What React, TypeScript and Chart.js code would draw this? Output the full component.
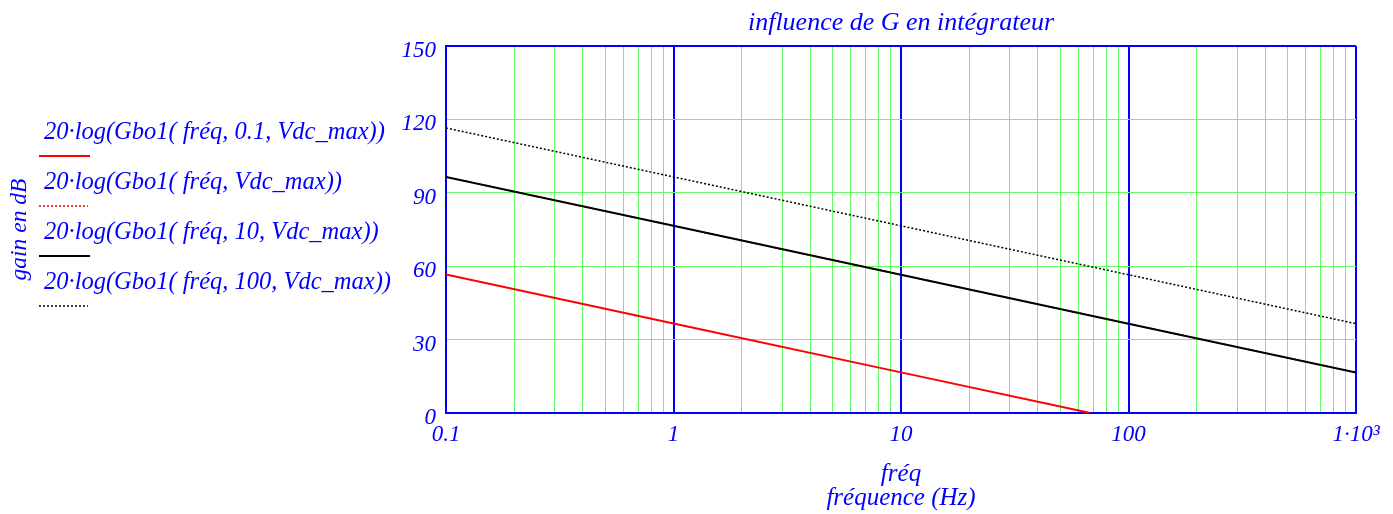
import { useEffect, useRef } from 'react';
import { Chart, registerables } from 'chart.js';

Chart.register(...registerables);

const FONT = '"Liberation Serif", "Times New Roman", serif';
const BLUE = '#0000ff';
const GREEN = 'rgb(100,250,100)';

// Frequencies (Hz) and gains (dB)
const freqs = [0.1, 1, 10, 100, 1000];
const gainG10 = [96.5, 76.5, 56.5, 36.5, 16.5];
const gainG100 = [116.5, 96.5, 76.5, 56.5, 36.5];
const gainDefault = [96.5, 76.5, 56.5, 36.5, 16.5];
const redFreqs = [0.1, 1, 10, 68];
const gainG01 = [56.6, 36.6, 16.6, 0];

const xTickValues = [
  0.1, 0.2, 0.3, 0.4, 0.5, 0.6, 0.7, 0.8, 0.9,
  1, 2, 3, 4, 5, 6, 7, 8, 9,
  10, 20, 30, 40, 50, 60, 70, 80, 90,
  100, 200, 300, 400, 500, 600, 700, 800, 900,
  1000,
];
const xMajorValues = [0.1, 1, 10, 100, 1000];
const xMajorLabels = ['0.1', '1', '10', '100', '1·10³'];
const yTickValues = [0, 30, 60, 90, 120, 150];

const legendLabels = [
  '20·log(Gbo1( fréq, 0.1, Vdc_max))',
  '20·log(Gbo1( fréq, Vdc_max))',
  '20·log(Gbo1( fréq, 10, Vdc_max))',
  '20·log(Gbo1( fréq, 100, Vdc_max))',
];
const legendColors = ['#ff0000', '#ff0000', '#000000', '#000000'];
const legendDashed = [false, true, false, true];

const isMajor = (v: number) => xMajorValues.some((m) => Math.abs(m - v) < 1e-9);

const legendPlugin = {
  id: 'mcadLegend',
  afterDraw(chart: any) {
    const ctx = chart.ctx as CanvasRenderingContext2D;
    ctx.save();
    ctx.font = `italic 24.5px ${FONT}`;
    ctx.textBaseline = 'alphabetic';
    ctx.textAlign = 'left';
    legendLabels.forEach((label, i) => {
      const base = 139 + i * 50;
      ctx.fillStyle = BLUE;
      ctx.fillText(label, 44, base);
      const ly = 156 + i * 50;
      ctx.beginPath();
      ctx.strokeStyle = legendColors[i];
      if (legendDashed[i]) {
        ctx.lineWidth = 1.5;
        ctx.setLineDash([2, 2]);
      } else {
        ctx.lineWidth = 2;
        ctx.setLineDash([]);
      }
      ctx.moveTo(39, ly);
      ctx.lineTo(legendDashed[i] ? 88 : 90, ly);
      ctx.stroke();
    });
    ctx.restore();
  },
};

export default function App() {
  const ref = useRef<HTMLCanvasElement>(null);
  useEffect(() => {
    if (!ref.current) return;
    const chart = new Chart(ref.current, {
      type: 'line',
      data: {
        datasets: [
          {
            label: legendLabels[0],
            data: redFreqs.map((f, i) => ({ x: f, y: gainG01[i] })),
            borderColor: '#ff0000',
            borderWidth: 2,
            pointRadius: 0,
            order: 0,
          },
          {
            label: legendLabels[1],
            data: freqs.map((f, i) => ({ x: f, y: gainDefault[i] })),
            borderColor: '#ff0000',
            borderWidth: 1.5,
            borderDash: [2, 2],
            pointRadius: 0,
            order: 2,
          },
          {
            label: legendLabels[2],
            data: freqs.map((f, i) => ({ x: f, y: gainG10[i] })),
            borderColor: '#000000',
            borderWidth: 2,
            pointRadius: 0,
            order: 0,
          },
          {
            label: legendLabels[3],
            data: freqs.map((f, i) => ({ x: f, y: gainG100[i] })),
            borderColor: '#000000',
            borderWidth: 1.5,
            borderDash: [2, 2],
            pointRadius: 0,
            order: 0,
          },
        ],
      },
      options: {
        animation: false,
        responsive: false,
        devicePixelRatio: 1,
        layout: { padding: { left: 0, right: 37, top: 0, bottom: 0 } },
        plugins: {
          legend: { display: false },
          tooltip: { enabled: false },
          title: {
            display: true,
            text: 'influence de G en intégrateur',
            fullSize: false,
            color: BLUE,
            font: { family: FONT, size: 26, style: 'italic', weight: 'normal', lineHeight: 1.2 },
            padding: { top: 7.6, bottom: 7.2 },
          },
        },
        scales: {
          x: {
            type: 'logarithmic',
            min: 0.1,
            max: 1000,
            afterBuildTicks: (scale: any) => {
              scale.ticks = xTickValues.map((v) => ({ value: v }));
            },
            afterFit: (scale: any) => {
              scale.height = 101;
            },
            ticks: {
              autoSkip: false,
              maxRotation: 0,
              minRotation: 0,
              padding: 8.4,
              color: BLUE,
              font: { family: FONT, size: 23, style: 'italic', lineHeight: 1.2 },
              callback: (value: any) => {
                const idx = xMajorValues.findIndex((m) => Math.abs(m - Number(value)) < 1e-9);
                return idx >= 0 ? xMajorLabels[idx] : '';
              },
            },
            grid: {
              drawTicks: false,
              color: (c: any) => (isMajor(c.tick?.value) ? BLUE : GREEN),
              lineWidth: (c: any) => (isMajor(c.tick?.value) ? 2 : 1),
            },
            border: { color: BLUE, width: 2 },
            title: {
              display: true,
              text: ['fréq', 'fréquence (Hz)'],
              color: BLUE,
              font: { family: FONT, size: 25, style: 'italic', lineHeight: 0.95 },
              padding: { top: 0, bottom: 4 },
            },
          },
          y: {
            type: 'linear',
            min: 0,
            max: 150,
            afterBuildTicks: (scale: any) => {
              scale.ticks = yTickValues.map((v) => ({ value: v }));
            },
            afterFit: (scale: any) => {
              scale.width = 446;
            },
            ticks: {
              padding: 10,
              labelOffset: 5,
              color: BLUE,
              font: { family: FONT, size: 23, style: 'italic', lineHeight: 1.2 },
            },
            grid: {
              drawTicks: false,
              color: (c: any) => (c.tick?.value === 150 || c.tick?.value === 0 ? BLUE : GREEN),
              lineWidth: (c: any) => (c.tick?.value === 150 || c.tick?.value === 0 ? 2 : 1),
            },
            border: { color: BLUE, width: 2 },
            title: {
              display: true,
              text: 'gain en dB',
              color: BLUE,
              font: { family: FONT, size: 23.5, style: 'italic', lineHeight: 1.2 },
              padding: { top: 6, bottom: 0 },
            },
          },
        },
      },
      plugins: [legendPlugin],
    } as any);
    return () => chart.destroy();
  }, []);
  return (
    <div style={{ position: 'fixed', left: 0, top: 0, width: 1393, height: 514, background: '#fff' }}>
      <canvas ref={ref} width={1393} height={514} style={{ width: 1393, height: 514 }} />
    </div>
  );
}
